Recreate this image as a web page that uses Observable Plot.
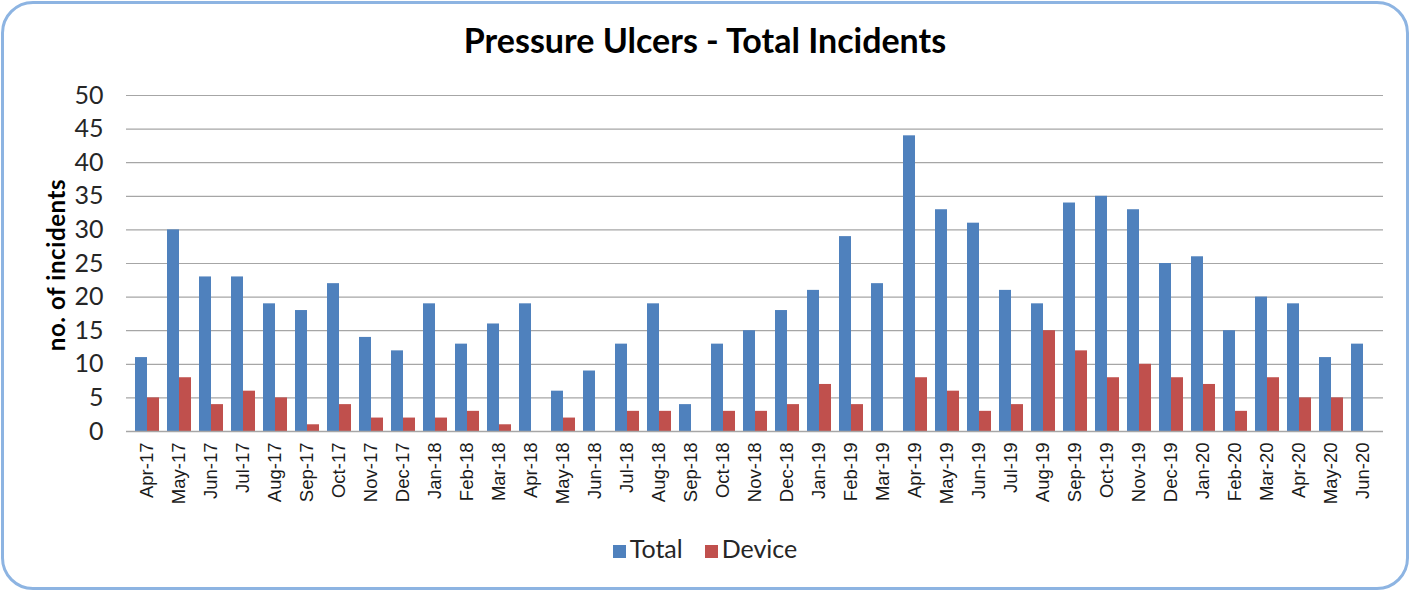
<!DOCTYPE html>
<html>
<head>
<meta charset="utf-8">
<script src="https://cdn.jsdelivr.net/npm/d3@7"></script>
<script src="https://cdn.jsdelivr.net/npm/@observablehq/plot@0.6"></script>
<style>
  html, body { margin: 0; padding: 0; background: #fff; }
  #wrap { position: relative; width: 1410px; height: 591px; overflow: hidden; background: #fff; }
  #frame { position: absolute; left: 1px; top: 1px; width: 1402px; height: 583px;
           border: 3px solid #8db4e2; border-radius: 32px; pointer-events: none; }
  #title { position: absolute; left: 0; width: 1410px; top: 19px; text-align: center;
           font-family: Lato, sans-serif; font-weight: bold; font-size: 34px; color: #000; line-height: 42px; }
  #ylabel { position: absolute; left: 55px; top: 265px; transform: translate(-50%, -50%) rotate(-90deg);
            font-family: Lato, sans-serif; font-weight: bold; font-size: 24px; letter-spacing: 0.6px; color: #000; white-space: nowrap; }
  #legend { position: absolute; left: 0; width: 1410px; top: 532px; text-align: center;
            font-family: Lato, sans-serif; font-size: 25px; color: #262626; line-height: 32px; }
  #legend span.item { display: inline-block; margin: 0 11px; }
  #legend span.sw { display: inline-block; width: 13px; height: 13px; margin-right: 4px; vertical-align: 0px; }
  #chart { position: absolute; left: 0; top: 0; }
</style>
</head>
<body>
<div id="wrap">
  <div id="chart"></div>
  <div id="title">Pressure Ulcers - Total Incidents</div>
  <div id="ylabel">no. of incidents</div>
  <div id="legend"></div>
  <div id="frame"></div>
</div>
<script>
const months = ["Apr-17","May-17","Jun-17","Jul-17","Aug-17","Sep-17","Oct-17","Nov-17","Dec-17",
  "Jan-18","Feb-18","Mar-18","Apr-18","May-18","Jun-18","Jul-18","Aug-18","Sep-18","Oct-18","Nov-18","Dec-18",
  "Jan-19","Feb-19","Mar-19","Apr-19","May-19","Jun-19","Jul-19","Aug-19","Sep-19","Oct-19","Nov-19","Dec-19",
  "Jan-20","Feb-20","Mar-20","Apr-20","May-20","Jun-20"];
const total = [11,30,23,23,19,18,22,14,12,19,13,16,19,6,9,13,19,4,13,15,18,21,29,22,44,33,31,21,19,34,35,33,25,26,15,20,19,11,13];
const device = [5,8,4,6,5,1,4,2,2,2,3,1,0,2,0,3,3,0,3,3,4,7,4,0,8,6,3,4,15,12,8,10,8,7,3,8,5,5,0];
const seriesNames = ["Total","Device"];
const seriesColors = ["#4f81bd","#c0504d"];
const yTicks = [0,5,10,15,20,25,30,35,40,45,50];

const totalData = months.map((m, i) => ({month: m, value: total[i]}));
const deviceData = months.map((m, i) => ({month: m, value: device[i]}));

const chart = Plot.plot({
  width: 1410,
  height: 520,
  marginTop: 95,
  marginBottom: 89,
  marginLeft: 126,
  marginRight: 27,
  style: {background: "transparent"},
  x: {domain: months, paddingInner: 0.628, paddingOuter: 0.314},
  y: {domain: [0, 50]},
  marks: [
    Plot.ruleY(yTicks.filter(d => d > 0), {stroke: "#a6a6a6", strokeWidth: 1.2}),
    Plot.barY(totalData, {x: "month", y: "value", dx: -6, fill: seriesColors[0]}),
    Plot.barY(deviceData, {x: "month", y: "value", dx: 6, fill: seriesColors[1]}),
    Plot.ruleY([0], {stroke: "#a6a6a6", strokeWidth: 1.5}),
    Plot.axisX({tickRotate: -90, tickSize: 0, tickPadding: 11, fontSize: 18.5,
      fontFamily: "Liberation Sans, Arial, sans-serif", fill: "#1a1a1a", label: null}),
    Plot.axisY({ticks: yTicks, tickSize: 0, tickPadding: 23, fontSize: 25,
      fontFamily: "Lato, sans-serif", fill: "#262626", label: null})
  ]
});
document.getElementById("chart").appendChild(chart);

const legend = document.getElementById("legend");
seriesNames.forEach((name, i) => {
  const item = document.createElement("span");
  item.className = "item";
  const sw = document.createElement("span");
  sw.className = "sw";
  sw.style.background = seriesColors[i];
  item.appendChild(sw);
  item.appendChild(document.createTextNode(name));
  legend.appendChild(item);
});
</script>
</body>
</html>
